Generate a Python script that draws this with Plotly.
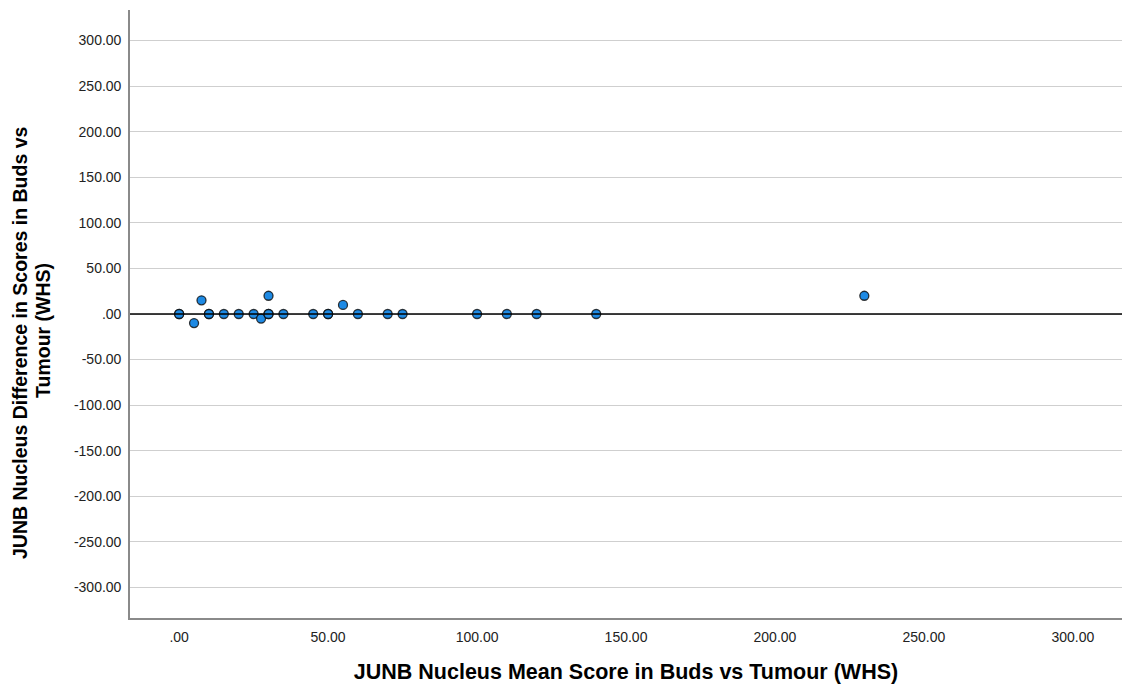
import plotly.graph_objects as go

# Data
mean_score = [0, 0, 5, 7.5, 10, 10, 15, 20, 25, 27.5, 30, 30, 30, 35, 45, 50, 50, 55, 60, 70, 75, 100, 110, 120, 140, 230]
difference = [0, 0, -10, 15, 0, 0, 0, 0, 0, -5, 0, 0, 20, 0, 0, 0, 0, 10, 0, 0, 0, 0, 0, 0, 0, 20]

x_ticks = [0, 50, 100, 150, 200, 250, 300]
y_ticks = [-300, -250, -200, -150, -100, -50, 0, 50, 100, 150, 200, 250, 300]

x_title = "JUNB Nucleus Mean Score in Buds vs Tumour (WHS)"
y_title_lines = ["JUNB Nucleus Difference in Scores in Buds vs", "Tumour (WHS)"]


def fmt(v):
    if v == 0:
        return ".00"
    return f"{v:.2f}"


font_family = "Liberation Sans, Arial, sans-serif"

fig = go.Figure()
fig.add_trace(go.Scatter(
    x=mean_score, y=difference, mode="markers",
    marker=dict(size=9, color="#1e8ae4", line=dict(color="rgba(10,10,10,0.8)", width=1.3)),
    showlegend=False, hoverinfo="x+y",
))

fig.add_hline(y=0, line=dict(color="black", width=1.5), layer="above")

fig.update_layout(
    width=1125, height=691,
    margin=dict(l=130, r=3, t=10, b=73),
    plot_bgcolor="white", paper_bgcolor="white",
    font=dict(family=font_family, color="#222"),
    xaxis=dict(
        range=[-16.5, 316.5], tickvals=x_ticks, ticktext=[fmt(v) for v in x_ticks],
        showgrid=False, zeroline=False, showline=True, linecolor="#8a8a8a", linewidth=1.6,
        ticks="", tickfont=dict(size=14, color="#222"), ticklabelstandoff=5,
        title=dict(text="<b>" + x_title + "</b>",
                   font=dict(size=21.5, color="black", family=font_family), standoff=20),
    ),
    yaxis=dict(
        range=[-333.5, 333.5], tickvals=y_ticks, ticktext=[fmt(v) for v in y_ticks],
        showgrid=True, gridcolor="#cfcfcf", gridwidth=1.2, zeroline=False,
        showline=True, linecolor="#8a8a8a", linewidth=1.6,
        ticks="", tickfont=dict(size=14, color="#222"), ticklabelstandoff=4,
    ),
)

# y-axis title as two rotated lines
fig.add_annotation(text="<b>" + y_title_lines[0] + "</b>", textangle=-90,
                   xref="paper", yref="paper", x=-130 / 992 + 20 / 992, y=(618 - 343) / 608,
                   xanchor="center", yanchor="middle", showarrow=False,
                   font=dict(size=19.5, color="black", family=font_family))
fig.add_annotation(text="<b>" + y_title_lines[1] + "</b>", textangle=-90,
                   xref="paper", yref="paper", x=-130 / 992 + 43 / 992, y=(618 - 331) / 608,
                   xanchor="center", yanchor="middle", showarrow=False,
                   font=dict(size=19.5, color="black", family=font_family))

fig.write_html("out.html", config={"displayModeBar": False},
               post_script="document.body.style.margin='0';")
